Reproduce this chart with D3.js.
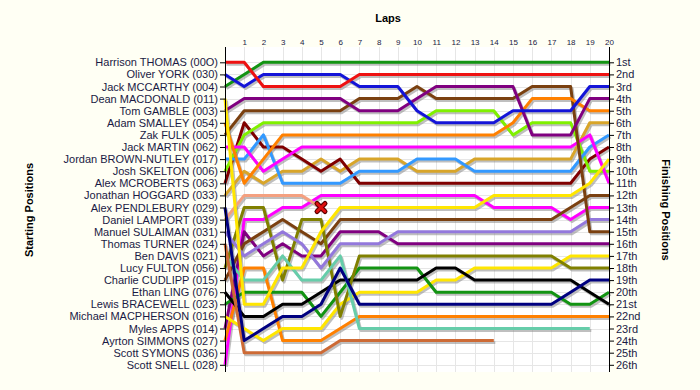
<!DOCTYPE html>
<html><head><meta charset="utf-8">
<script src="https://cdn.jsdelivr.net/npm/d3@7"></script>
<style>
html,body{margin:0;padding:0;background:#fffff4;}
svg{display:block;}
text{font-family:"Liberation Sans",Arial,sans-serif;}
</style></head>
<body>
<svg id="chart" width="700" height="390"></svg>
<script>
// ---------- DATA ----------
const laps = d3.range(0, 21);
const lapLabels = d3.range(1, 21).map(String);
const starters = [
  "Harrison THOMAS (00O)","Oliver YORK (030)","Jack MCCARTHY (004)","Dean MACDONALD (011)",
  "Tom GAMBLE (003)","Adam SMALLEY (054)","Zak FULK (005)","Jack MARTIN (062)",
  "Jordan BROWN-NUTLEY (017)","Josh SKELTON (006)","Alex MCROBERTS (063)","Jonathan HOGGARD (033)",
  "Alex PENDLEBURY (029)","Daniel LAMPORT (039)","Manuel SULAIMAN (031)","Thomas TURNER (024)",
  "Ben DAVIS (021)","Lucy FULTON (056)","Charlie CUDLIPP (015)","Ethan LING (076)",
  "Lewis BRACEWELL (023)","Michael MACPHERSON (016)","Myles APPS (014)","Ayrton SIMMONS (027)",
  "Scott SYMONS (036)","Scott SNELL (028)"
];
const finishLabels = ["1st","2nd","3rd","4th","5th","6th","7th","8th","9th","10th","11th","12th","13th",
  "14th","15th","16th","17th","18th","19th","20th","21st","22nd","23rd","24th","25th","26th"];
const colors = ["#ee1111","#1414d8","#129412","#ffe600","#800080","#ff8000","#7a4010","#ff00ff",
  "#3399ff","#80f000","#800000","#d8a52a","#000080","#f4a080","#9378dc","#cd6a35",
  "#66cdaa","#808000","#7a4010","#000000","#129412","#ffe600","#800080","#ff8000",
  "#cd6a35","#ff00ff"];
// positions at lap 0..20 (null = not running)
const N = null;
const pos = [
  [1,1,3,3,3,3,3,2,2,2,2,2,2,2,2,2,2,2,2,2,2],
  [2,3,2,2,2,2,2,3,3,3,5,6,6,6,6,5,5,5,5,3,3],
  [3,2,1,1,1,1,1,1,1,1,1,1,1,1,1,1,1,1,1,1,1],
  [4,21,21,18,18,15,13,13,13,13,13,13,13,13,12,12,12,12,12,11,9],
  [5,4,4,4,4,4,4,5,5,5,4,3,3,3,3,3,7,7,7,4,4],
  [6,11,9,7,7,7,7,7,7,7,7,7,7,7,7,6,4,4,4,5,5],
  [7,5,5,5,5,5,5,4,4,4,3,4,4,4,4,4,3,3,3,15,15],
  [8,8,10,9,8,8,8,8,8,8,8,8,8,8,8,8,8,8,8,7,11],
  [9,9,7,11,11,11,11,10,10,10,9,9,9,10,10,10,10,10,10,8,7],
  [10,7,6,6,6,6,6,6,6,6,6,5,5,5,5,7,6,6,6,10,10],
  [11,6,8,8,9,10,9,11,11,11,11,11,11,11,11,11,11,11,11,9,8],
  [12,10,11,10,10,9,10,9,9,9,10,10,10,9,9,9,9,9,9,6,6],
  [13,24,23,22,22,21,18,21,21,21,21,21,21,21,21,21,21,21,20,19,19],
  [14,12,12,12,12,13,N,N,N,N,N,N,N,N,N,N,N,N,N,N,N],
  [15,17,16,15,16,18,16,16,16,15,15,15,15,15,15,15,15,15,15,14,14],
  [16,25,25,25,25,25,24,24,24,24,24,24,24,24,24,N,N,N,N,N,N],
  [17,19,19,17,19,19,17,23,23,23,23,23,23,23,23,23,23,23,23,23,N],
  [18,13,13,19,14,14,22,17,17,17,17,17,17,17,17,17,17,17,18,18,18],
  [19,16,15,14,15,16,14,14,14,14,14,14,14,14,14,14,14,14,13,12,12],
  [20,22,22,21,21,20,19,19,19,19,19,18,18,19,19,19,19,19,19,20,21],
  [21,20,20,20,20,22,20,18,18,18,18,20,20,20,20,20,20,20,21,21,20],
  [22,23,24,23,23,23,21,20,20,20,20,19,19,18,18,18,18,18,17,17,17],
  [23,15,17,16,17,17,15,15,15,16,16,16,16,16,16,16,16,16,16,16,16],
  [24,18,18,24,24,24,23,22,22,22,22,22,22,22,22,22,22,22,22,22,22],
  [N,N,N,N,N,N,N,N,N,N,N,N,N,N,N,N,N,N,N,N,N],
  [26,14,14,13,13,12,12,12,12,12,12,12,12,12,13,13,13,13,14,13,13]
];
// retirement marker: driver index, lap
const crashes = [{driver: 13, lap: 5}];

// ---------- CHART ----------
const svg = d3.select("#chart");
const rows = d3.range(1, 27);
const x = d3.scaleLinear().domain([0, 20]).range([225, 609]);
const y = d3.scaleLinear().domain([1, 26]).range([62.3, 364.8]);
const yTop = 47, yBottom = 372;
const labelColor = "#1a1a44";

// plot background
svg.append("rect").attr("x", x(0)).attr("y", yTop).attr("width", x(20) - x(0)).attr("height", yBottom - yTop)
  .attr("fill", "#ffffff");

// grid
const grid = svg.append("g").attr("stroke", "#e6e6e6").attr("stroke-width", 1);
grid.selectAll("line.h").data(rows).join("line").attr("class", "h")
  .attr("x1", x(0)).attr("x2", x(20)).attr("y1", d => Math.round(y(d)) + 0.5).attr("y2", d => Math.round(y(d)) + 0.5);
grid.selectAll("line.v").data(d3.range(1, 20)).join("line").attr("class", "v")
  .attr("y1", yTop).attr("y2", yBottom).attr("x1", d => Math.round(x(d)) + 0.5).attr("x2", d => Math.round(x(d)) + 0.5);

// lines
const line = d3.line().defined(d => d.p != null).x(d => x(d.l)).y(d => y(d.p));
const series = pos.map((p, i) => ({i, pts: p.map((v, l) => ({l, p: v}))}));
const order = series.slice().reverse();
svg.append("g").attr("transform", "translate(1.5,2)")
  .selectAll("path").data(order).join("path")
  .attr("d", d => line(d.pts)).attr("fill", "none").attr("stroke", "#8a8a8a").attr("stroke-opacity", 0.55)
  .attr("stroke-width", 3).attr("stroke-linejoin", "round");
svg.append("g").selectAll("path").data(order).join("path")
  .attr("d", d => line(d.pts)).attr("fill", "none").attr("stroke", d => colors[d.i])
  .attr("stroke-width", 3).attr("stroke-linejoin", "round").attr("stroke-linecap", "butt");

// crash markers
crashes.forEach(c => {
  const cx = x(c.lap), cy = y(pos[c.driver][c.lap]);
  const g = svg.append("g").attr("transform", `translate(${cx},${cy})`);
  const pth = "M-4,-4L4,4M4,-4L-4,4";
  g.append("path").attr("d", pth).attr("stroke", "#5a0000").attr("stroke-width", 5).attr("stroke-linecap", "round");
  g.append("path").attr("d", pth).attr("stroke", "#e01010").attr("stroke-width", 2.6).attr("stroke-linecap", "round");
});

// axes
const yPoint = d3.scalePoint().domain(rows).range([y(1), y(26)]);
const leftAxis = svg.append("g").attr("transform", `translate(${x(0)},0)`)
  .call(d3.axisLeft(yPoint).tickSize(5).tickPadding(2).tickFormat(d => starters[d - 1]));
const rightAxis = svg.append("g").attr("transform", `translate(${x(20)},0)`)
  .call(d3.axisRight(yPoint).tickSize(5).tickPadding(2).tickFormat(d => finishLabels[d - 1]));
[leftAxis, rightAxis].forEach(a => {
  a.select(".domain").remove();
  a.selectAll("text").attr("font-size", 11).attr("fill", labelColor).attr("font-family", "'Liberation Sans',Arial,sans-serif");
  a.selectAll("line").attr("stroke", "#000");
  a.append("line").attr("x1", 0.5).attr("x2", 0.5).attr("y1", yTop).attr("y2", yBottom).attr("stroke", "#000");
});
const lapPoint = d3.scaleLinear().domain([0, 20]).range([x(0), x(20)]);
const topAxis = svg.append("g").attr("transform", `translate(0,${yTop})`)
  .call(d3.axisTop(lapPoint).tickValues(d3.range(1, 21)).tickSize(0).tickPadding(2)
    .tickFormat(d => lapLabels[d - 1]));
topAxis.select(".domain").remove();
topAxis.selectAll("text").attr("font-size", 8).attr("fill", labelColor).attr("font-family", "'Liberation Sans',Arial,sans-serif");

// titles
svg.append("text").attr("x", 388).attr("y", 22).attr("text-anchor", "middle")
  .attr("font-size", 11).attr("font-weight", "bold").attr("fill", "#000").text("Laps");
svg.append("text").attr("transform", "translate(33,210) rotate(-90)").attr("text-anchor", "middle")
  .attr("font-size", 11).attr("font-weight", "bold").attr("fill", "#000").text("Starting Positions");
svg.append("text").attr("transform", "translate(662,210) rotate(90)").attr("text-anchor", "middle")
  .attr("font-size", 11).attr("font-weight", "bold").attr("fill", "#000").text("Finishing Positions");
</script>
</body></html>
